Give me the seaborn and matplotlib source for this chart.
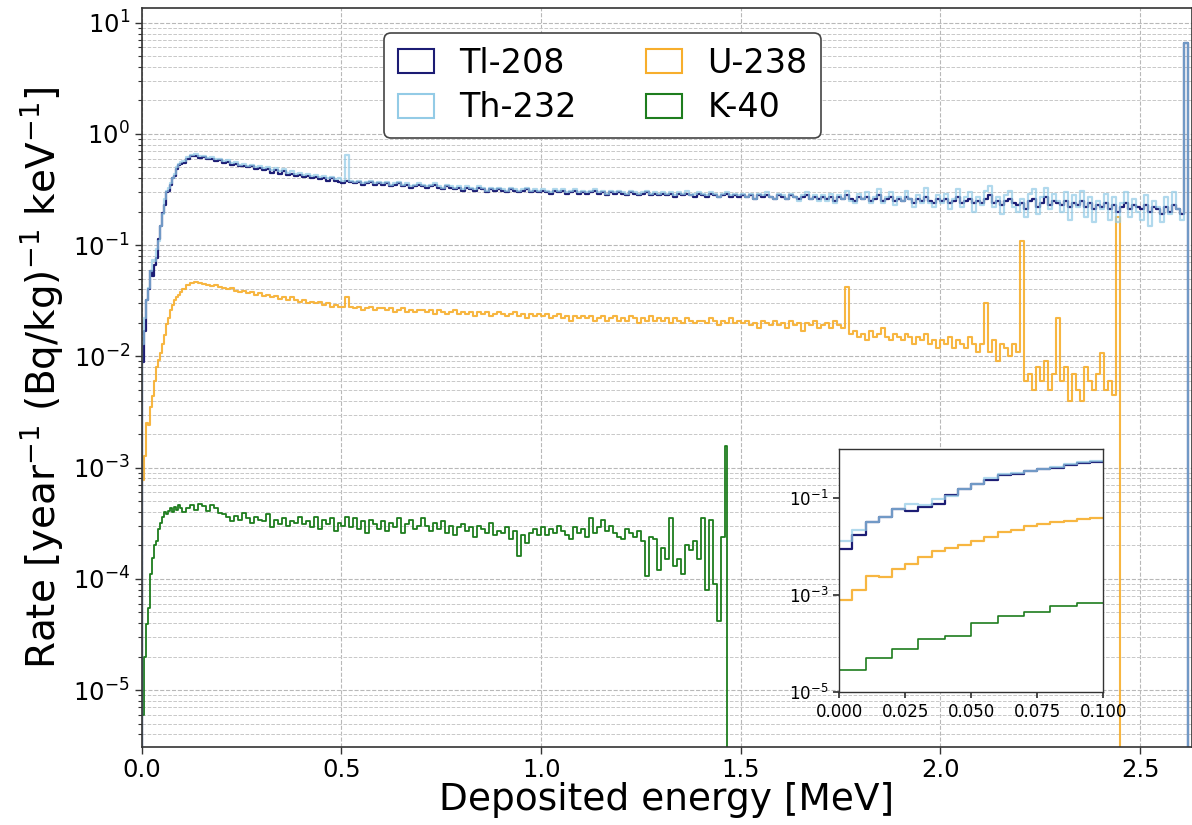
import numpy as np
import matplotlib
matplotlib.use("Agg")
import matplotlib.pyplot as plt
from matplotlib.patches import Patch
from matplotlib.ticker import LogLocator, NullLocator, NullFormatter, FixedLocator
import seaborn as sns

# ------------------------------------------------------------------ data
SERIES = ["Tl-208", "Th-232", "U-238", "K-40"]
LOW_BIN = 0.005    # MeV, bins below 0.1 MeV
HIGH_BIN = 0.01    # MeV, bins above 0.1 MeV

# 0 - 0.1 MeV (5 keV bins)
TL208_LOW = [0.0089, 0.017, 0.032, 0.040, 0.059, 0.053, 0.066, 0.076, 0.114, 0.15,
             0.195, 0.23, 0.30, 0.31, 0.35, 0.40, 0.42, 0.48, 0.53, 0.54]
TH232_LOW = [0.013, 0.022, 0.032, 0.041, 0.058, 0.074, 0.072, 0.093, 0.11, 0.15,
             0.19, 0.26, 0.31, 0.33, 0.36, 0.40, 0.44, 0.50, 0.54, 0.56]
U238_LOW = [0.00078, 0.00126, 0.0025, 0.0024, 0.0035, 0.0044, 0.006, 0.008, 0.0093, 0.0107,
            0.013, 0.0155, 0.0195, 0.022, 0.026, 0.029, 0.032, 0.034, 0.036, 0.038]
K40_LOW = [6e-6, 2.0e-5, 3.9e-5, 5.5e-5, 1.1e-4, 1.55e-4, 2.0e-4, 2.2e-4, 2.8e-4, 3.2e-4,
           3.6e-4, 4.0e-4, 3.8e-4, 4.1e-4, 4.3e-4, 4.0e-4, 4.4e-4, 4.2e-4, 4.6e-4, 4.3e-4]
# inset K-40 (10 keV bins, 0 - 0.1 MeV)
K40_INSET = [2.8e-5, 5.0e-5, 7.6e-5, 1.23e-4, 1.44e-4, 2.7e-4, 3.7e-4, 4.5e-4, 5.9e-4, 6.9e-4]

# above 0.1 MeV (10 keV bins)
TL208_HIGH = [
    0.55, 0.60, 0.63, 0.64, 0.61, 0.62, 0.59, 0.60, 0.57, 0.58,
    0.55, 0.56, 0.53, 0.54, 0.51, 0.52, 0.50, 0.51, 0.48, 0.49,
    0.47, 0.48, 0.45, 0.47, 0.44, 0.46, 0.43, 0.44, 0.42, 0.43,
    0.41, 0.42, 0.40, 0.41, 0.39, 0.40, 0.38, 0.40, 0.38, 0.37,
    0.36, 0.38, 0.37, 0.36, 0.37, 0.35, 0.36, 0.37, 0.35, 0.36,
    0.35, 0.36, 0.34, 0.35, 0.36, 0.34, 0.35, 0.33, 0.34, 0.35,
    0.34, 0.33, 0.34, 0.35, 0.33, 0.32, 0.34, 0.33, 0.32, 0.33,
    0.31, 0.33, 0.32, 0.31, 0.33, 0.32, 0.30, 0.32, 0.31, 0.32,
    0.31, 0.30, 0.32, 0.31, 0.30, 0.31, 0.32, 0.30, 0.31, 0.30,
    0.31, 0.30, 0.29, 0.31, 0.30, 0.31, 0.29, 0.30, 0.31, 0.29,
    0.30, 0.29, 0.30, 0.31, 0.29, 0.30, 0.28, 0.30, 0.29, 0.30,
    0.29, 0.28, 0.30, 0.29, 0.28, 0.29, 0.30, 0.28, 0.29, 0.28,
    0.29, 0.28, 0.29, 0.27, 0.29, 0.28, 0.29, 0.28, 0.27, 0.29,
    0.28, 0.27, 0.29, 0.28, 0.27, 0.28, 0.29, 0.27, 0.28, 0.27,
    0.28, 0.27, 0.28, 0.26, 0.28, 0.27, 0.28, 0.27, 0.26, 0.28,
    0.27, 0.26, 0.28, 0.27, 0.26, 0.27, 0.28, 0.26, 0.27, 0.26,
    0.27, 0.26, 0.27, 0.25, 0.27, 0.26, 0.28, 0.26, 0.25, 0.27,
    0.26, 0.27, 0.25, 0.26, 0.28, 0.25, 0.26, 0.27, 0.25, 0.26,
    0.25, 0.27, 0.26, 0.24, 0.26, 0.25, 0.27, 0.25, 0.24, 0.26,
    0.25, 0.26, 0.24, 0.25, 0.27, 0.24, 0.25, 0.26, 0.24, 0.25,
    0.24, 0.26, 0.28, 0.24, 0.25, 0.23, 0.25, 0.26, 0.24, 0.23,
    0.24, 0.21, 0.25, 0.26, 0.22, 0.24, 0.27, 0.23, 0.25, 0.24,
    0.23, 0.25, 0.22, 0.24, 0.23, 0.25, 0.22, 0.24, 0.21, 0.23,
    0.22, 0.24, 0.21, 0.23, 0.20, 0.22, 0.24, 0.21, 0.23, 0.22,
    0.21, 0.23, 0.20, 0.22, 0.21, 0.19, 0.22, 0.20, 0.23, 0.21, 0.19]
TL208_PEAK = 6.6

TH232_HIGH = [
    0.57, 0.62, 0.65, 0.66, 0.63, 0.64, 0.61, 0.62, 0.59, 0.60,
    0.57, 0.58, 0.55, 0.56, 0.53, 0.54, 0.52, 0.53, 0.50, 0.51,
    0.49, 0.50, 0.47, 0.49, 0.46, 0.48, 0.45, 0.46, 0.44, 0.45,
    0.43, 0.44, 0.42, 0.43, 0.41, 0.42, 0.40, 0.41, 0.39, 0.40,
    0.38, 0.65, 0.38, 0.37, 0.38, 0.36, 0.37, 0.38, 0.36, 0.37,
    0.36, 0.37, 0.35, 0.36, 0.37, 0.35, 0.36, 0.34, 0.35, 0.36,
    0.35, 0.34, 0.35, 0.36, 0.34, 0.33, 0.35, 0.34, 0.33, 0.34,
    0.32, 0.34, 0.33, 0.32, 0.34, 0.33, 0.31, 0.33, 0.32, 0.33,
    0.32, 0.31, 0.33, 0.32, 0.31, 0.32, 0.33, 0.31, 0.32, 0.31,
    0.32, 0.31, 0.30, 0.32, 0.31, 0.32, 0.30, 0.31, 0.32, 0.30,
    0.31, 0.30, 0.31, 0.32, 0.30, 0.31, 0.29, 0.31, 0.30, 0.31,
    0.30, 0.29, 0.31, 0.30, 0.29, 0.30, 0.31, 0.29, 0.30, 0.29,
    0.30, 0.29, 0.30, 0.28, 0.30, 0.29, 0.31, 0.28, 0.29, 0.30,
    0.29, 0.28, 0.30, 0.29, 0.27, 0.29, 0.30, 0.28, 0.29, 0.28,
    0.29, 0.27, 0.29, 0.26, 0.29, 0.28, 0.30, 0.27, 0.26, 0.29,
    0.28, 0.26, 0.29, 0.27, 0.25, 0.28, 0.30, 0.26, 0.28, 0.25,
    0.28, 0.25, 0.29, 0.24, 0.28, 0.26, 0.31, 0.25, 0.24, 0.29,
    0.26, 0.30, 0.24, 0.27, 0.32, 0.24, 0.27, 0.30, 0.23, 0.27,
    0.25, 0.31, 0.26, 0.22, 0.28, 0.24, 0.33, 0.24, 0.22, 0.28,
    0.24, 0.29, 0.21, 0.26, 0.32, 0.22, 0.27, 0.30, 0.20, 0.27,
    0.23, 0.31, 0.34, 0.22, 0.27, 0.19, 0.28, 0.31, 0.22, 0.20,
    0.26, 0.18, 0.29, 0.32, 0.19, 0.27, 0.33, 0.21, 0.29, 0.25,
    0.20, 0.30, 0.17, 0.28, 0.22, 0.31, 0.18, 0.27, 0.16, 0.25,
    0.21, 0.29, 0.17, 0.27, 0.16, 0.24, 0.30, 0.18, 0.26, 0.20,
    0.17, 0.28, 0.15, 0.25, 0.22, 0.16, 0.27, 0.19, 0.30, 0.21, 0.17]
TH232_PEAK = 6.6

U238_HIGH = [
    0.040, 0.044, 0.046, 0.047, 0.046, 0.045, 0.044, 0.043, 0.044, 0.042,
    0.041, 0.040, 0.041, 0.039, 0.038, 0.039, 0.037, 0.038, 0.036, 0.037,
    0.035, 0.036, 0.034, 0.035, 0.033, 0.034, 0.032, 0.034, 0.032, 0.031,
    0.032, 0.030, 0.031, 0.030, 0.031, 0.029, 0.030, 0.028, 0.029, 0.028,
    0.028, 0.034, 0.028, 0.027, 0.028, 0.026, 0.027, 0.028, 0.026, 0.027,
    0.027, 0.026, 0.027, 0.025, 0.026, 0.027, 0.025, 0.026, 0.025, 0.026,
    0.026, 0.025, 0.026, 0.024, 0.026, 0.025, 0.024, 0.025, 0.026, 0.024,
    0.025, 0.024, 0.025, 0.023, 0.025, 0.024, 0.025, 0.023, 0.024, 0.025,
    0.024, 0.023, 0.024, 0.025, 0.023, 0.024, 0.022, 0.024, 0.023, 0.024,
    0.023, 0.024, 0.022, 0.023, 0.024, 0.022, 0.023, 0.021, 0.023, 0.022,
    0.023, 0.022, 0.023, 0.021, 0.022, 0.023, 0.021, 0.022, 0.023, 0.021,
    0.022, 0.021, 0.023, 0.022, 0.020, 0.022, 0.021, 0.023, 0.021, 0.022,
    0.021, 0.022, 0.020, 0.022, 0.021, 0.020, 0.022, 0.021, 0.020, 0.021,
    0.021, 0.020, 0.022, 0.021, 0.019, 0.021, 0.020, 0.022, 0.020, 0.021,
    0.020, 0.021, 0.019, 0.020, 0.018, 0.021, 0.020, 0.019, 0.021, 0.019,
    0.020, 0.018, 0.021, 0.019, 0.020, 0.017, 0.020, 0.019, 0.021, 0.018,
    0.019, 0.020, 0.018, 0.021, 0.019, 0.018, 0.042, 0.016, 0.017, 0.015,
    0.016, 0.014, 0.017, 0.015, 0.016, 0.018, 0.015, 0.014, 0.016, 0.015,
    0.014, 0.016, 0.015, 0.013, 0.015, 0.014, 0.016, 0.013, 0.014, 0.012,
    0.014, 0.013, 0.015, 0.012, 0.014, 0.013, 0.012, 0.015, 0.013, 0.011,
    0.013, 0.030, 0.011, 0.014, 0.009, 0.013, 0.012, 0.010, 0.013, 0.011,
    0.110, 0.006, 0.007, 0.005, 0.008, 0.006, 0.009, 0.005, 0.007, 0.022,
    0.006, 0.008, 0.004, 0.007, 0.005, 0.004, 0.008, 0.006, 0.005, 0.007,
    0.0107, 0.005, 0.006, 0.0045]
U238_PEAK = 0.18

K40_HIGH = [
    4.0e-4, 4.3e-4, 4.6e-4, 4.2e-4, 4.7e-4, 4.5e-4, 4.1e-4, 4.6e-4, 4.3e-4, 3.9e-4,
    3.8e-4, 3.6e-4, 3.3e-4, 3.7e-4, 3.4e-4, 3.9e-4, 3.5e-4, 3.2e-4, 3.6e-4, 3.4e-4,
    3.3e-4, 3.8e-4, 2.9e-4, 3.4e-4, 3.1e-4, 3.5e-4, 3.0e-4, 3.3e-4, 3.2e-4, 3.6e-4,
    3.1e-4, 3.3e-4, 2.9e-4, 3.6e-4, 2.8e-4, 3.4e-4, 3.1e-4, 3.5e-4, 2.7e-4, 3.2e-4,
    3.0e-4, 3.6e-4, 2.9e-4, 3.5e-4, 2.8e-4, 3.3e-4, 2.6e-4, 3.4e-4, 3.1e-4, 2.8e-4,
    3.3e-4, 2.7e-4, 3.2e-4, 2.9e-4, 3.5e-4, 2.6e-4, 3.1e-4, 3.4e-4, 2.8e-4, 3.0e-4,
    3.5e-4, 3.0e-4, 2.7e-4, 3.2e-4, 2.8e-4, 3.3e-4, 2.6e-4, 3.0e-4, 2.5e-4, 2.9e-4,
    3.1e-4, 2.7e-4, 2.9e-4, 2.4e-4, 3.0e-4, 2.8e-4, 2.6e-4, 3.2e-4, 2.5e-4, 2.7e-4,
    2.6e-4, 2.9e-4, 2.3e-4, 2.7e-4, 1.6e-4, 2.5e-4, 2.1e-4, 2.6e-4, 2.8e-4, 2.5e-4,
    2.9e-4, 2.5e-4, 2.8e-4, 2.6e-4, 3.0e-4, 2.7e-4, 2.5e-4, 2.3e-4, 2.9e-4, 2.6e-4,
    2.8e-4, 2.4e-4, 3.5e-4, 2.6e-4, 2.9e-4, 3.4e-4, 2.7e-4, 3.0e-4, 2.6e-4, 2.4e-4,
    2.3e-4, 2.8e-4, 2.6e-4, 2.4e-4, 2.7e-4, 2.2e-4, 1.05e-4, 2.4e-4, 2.3e-4, 1.2e-4,
    1.9e-4, 1.5e-4, 3.5e-4, 1.3e-4, 1.5e-4, 1.1e-4, 2.0e-4, 1.8e-4, 2.2e-4, 1.5e-4,
    3.5e-4, 0.8e-4, 3.4e-4, 0.9e-4, 0.42e-4, 2.4e-4]
K40_PEAK = 1.55e-3

Y_TICKS = [1e-5, 1e-4, 1e-3, 1e-2, 1e-1, 1e0, 1e1]
X_TICKS = [0.0, 0.5, 1.0, 1.5, 2.0, 2.5]
INSET_X_TICKS = [0.0, 0.025, 0.05, 0.075, 0.1]
INSET_X_LABELS = ["0.000", "0.025", "0.050", "0.075", "0.100"]
INSET_Y_TICKS = [1e-5, 1e-3, 1e-1]

PEAK_WIDTH = {"Tl-208": 0.01, "Th-232": 0.01, "U-238": 0.01, "K-40": 0.005}
COLORS = {"Tl-208": "#1c1c74", "Th-232": "#93cbe6", "U-238": "#f7ae2c", "K-40": "#1e7d1e"}
ALPHAS = {"Tl-208": 1.0, "Th-232": 0.72, "U-238": 0.9, "K-40": 1.0}
WIDTHS = {"Tl-208": 1.6, "Th-232": 1.6, "U-238": 1.5, "K-40": 1.3}


def build(low, high, peak, peak_width):
    """Histogram bin edges/centres/values, padded with empty bins at both ends."""
    e_low = np.round(LOW_BIN * np.arange(len(low) + 1), 4)
    e_high = np.round(e_low[-1] + HIGH_BIN * np.arange(1, len(high) + 1), 4)
    e_peak = np.round(e_high[-1] + peak_width, 4)
    edges = np.concatenate([[-LOW_BIN], e_low, e_high, [e_peak, e_peak + LOW_BIN]])
    values = np.concatenate([[0.0], low, high, [peak, 0.0]])
    centers = (edges[:-1] + edges[1:]) / 2
    return edges.tolist(), centers, values


MAIN = {
    "Tl-208": build(TL208_LOW, TL208_HIGH, TL208_PEAK, PEAK_WIDTH["Tl-208"]),
    "Th-232": build(TH232_LOW, TH232_HIGH, TH232_PEAK, PEAK_WIDTH["Th-232"]),
    "U-238": build(U238_LOW, U238_HIGH, U238_PEAK, PEAK_WIDTH["U-238"]),
    "K-40": build(K40_LOW, K40_HIGH, K40_PEAK, PEAK_WIDTH["K-40"]),
}

# ------------------------------------------------------------------ figure
sns.set_theme(style="white")
plt.rcParams["font.family"] = ["DejaVu Sans"]
plt.rcParams["mathtext.fontset"] = "dejavusans"
for key in ["text.color", "axes.labelcolor", "xtick.color", "ytick.color"]:
    plt.rcParams[key] = "black"

fig = plt.figure(figsize=(11.92, 8.25), dpi=100)
ax = fig.add_axes([0.119, 0.095, 0.881, 0.895])

for name in ["U-238", "K-40", "Tl-208", "Th-232"]:
    edges, centers, values = MAIN[name]
    sns.histplot(x=centers, weights=values, bins=edges, element="step", fill=False,
                 color=COLORS[name], alpha=ALPHAS[name], linewidth=WIDTHS[name], ax=ax)

ax.set_yscale("log")
ax.set_xlim(0, 2.63)
ax.set_ylim(3.1e-6, 13.5)
ax.yaxis.set_major_locator(FixedLocator(Y_TICKS))
ax.yaxis.set_minor_locator(LogLocator(base=10, subs=np.arange(2, 10), numticks=20))
ax.yaxis.set_minor_formatter(NullFormatter())
ax.xaxis.set_major_locator(FixedLocator(X_TICKS))
ax.grid(True, which="major", axis="both", linestyle="--", color="#b8b8b8", linewidth=0.8)
ax.grid(True, which="minor", axis="y", linestyle="--", color="#c8c8c8", linewidth=0.7)
ax.tick_params(axis="both", which="major", labelsize=17.5, length=5, width=1, color="#333333",
               left=True, bottom=True, labelcolor="black")
ax.tick_params(axis="y", which="minor", length=3, width=0.8, color="#333333", left=True)
for s in ax.spines.values():
    s.set_color("#333333")
    s.set_linewidth(1.2)

ax.set_xlabel("Deposited energy [MeV]", fontsize=27, labelpad=0, color="black")
ax.set_ylabel("Rate [year$^{-1}$ (Bq/kg)$^{-1}$ keV$^{-1}$]", fontsize=28, labelpad=6,
              color="black")

handles = [Patch(facecolor="none", edgecolor=COLORS[n], linewidth=1.5, label=n) for n in SERIES]
leg = ax.legend(handles=handles, ncol=2, loc="upper left", bbox_to_anchor=(0.231, 0.966),
                borderaxespad=0, fontsize=24, handlelength=1.08, handleheight=0.75,
                handletextpad=0.75, columnspacing=2.1, labelspacing=0.35,
                frameon=True, fancybox=True, framealpha=1.0, edgecolor="#444444")
leg.get_frame().set_linewidth(1.2)
for t in leg.get_texts():
    t.set_color("black")

# ------------------------------------------------------------------ inset
axin = fig.add_axes([0.704, 0.161, 0.2215, 0.2945])
low_edges = np.round(LOW_BIN * np.arange(len(TL208_LOW) + 1), 4)
low_centers = (low_edges[:-1] + low_edges[1:]) / 2
k_edges = np.round(HIGH_BIN * np.arange(len(K40_INSET) + 1), 4)
k_centers = (k_edges[:-1] + k_edges[1:]) / 2
for name, vals in [("U-238", U238_LOW), ("Tl-208", TL208_LOW), ("Th-232", TH232_LOW)]:
    sns.histplot(x=low_centers, weights=vals, bins=low_edges.tolist(), element="step",
                 fill=False, color=COLORS[name], alpha=ALPHAS[name], linewidth=1.6, ax=axin)
sns.histplot(x=k_centers, weights=K40_INSET, bins=k_edges.tolist(), element="step", fill=False,
             color=COLORS["K-40"], linewidth=1.2, ax=axin)
axin.set_yscale("log")
axin.set_xlim(0, 0.1)
axin.set_ylim(1e-5, 1)
axin.yaxis.set_major_locator(FixedLocator(INSET_Y_TICKS))
axin.yaxis.set_minor_locator(NullLocator())
axin.xaxis.set_major_locator(FixedLocator(INSET_X_TICKS))
axin.set_xticklabels(INSET_X_LABELS)
axin.tick_params(axis="both", labelsize=12, length=4, color="#333333", left=True, bottom=True,
                 labelcolor="black")
axin.set_xlabel("")
axin.set_ylabel("")
axin.set_facecolor("white")
for s in axin.spines.values():
    s.set_color("#333333")
    s.set_linewidth(1.0)

fig.savefig("out.png", dpi=100)
